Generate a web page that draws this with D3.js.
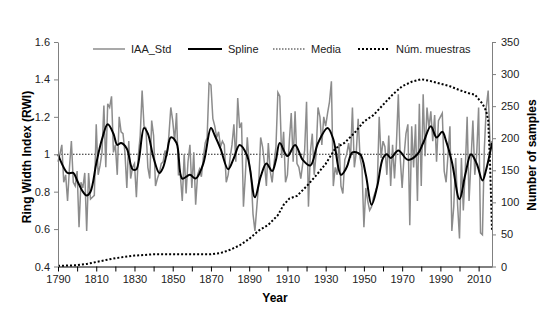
<!DOCTYPE html>
<html>
<head>
<meta charset="utf-8">
<script src="https://cdn.jsdelivr.net/npm/d3@7"></script>
<style>
  body { margin: 0; background: #fff; }
  svg text { font-family: "Liberation Sans", Arial, sans-serif; }
</style>
</head>
<body>
<svg id="chart" width="554" height="319"></svg>
<script>
// ring width index, one value per year from 1790 to 2017 (rows = decades)
const iaaStd = [
  0.96, 1.00, 1.05, 0.85, 0.89, 0.75, 0.93, 1.07, 0.85, 0.83,
  0.91, 0.61, 0.85, 0.82, 0.90, 0.59, 0.90, 0.76, 0.77, 0.78,
  1.16, 0.89, 0.94, 1.01, 1.26, 0.93, 1.27, 1.25, 1.31, 1.01,
  1.05, 0.89, 1.20, 1.12, 1.11, 1.01, 0.82, 1.07, 0.87, 0.93,
  0.95, 0.77, 0.99, 1.10, 1.34, 1.15, 1.14, 0.93, 0.87, 1.18,
  1.10, 0.83, 0.87, 0.90, 0.95, 0.96, 1.02, 0.99, 1.10, 1.25,
  1.18, 1.07, 1.22, 0.89, 0.89, 0.75, 1.00, 0.79, 0.96, 1.05,
  0.82, 1.01, 0.73, 0.89, 0.92, 0.88, 0.98, 1.06, 1.09, 1.38,
  1.37, 1.19, 1.15, 1.09, 1.12, 1.04, 1.07, 1.05, 0.85, 0.89,
  0.98, 1.05, 1.16, 0.96, 1.30, 1.14, 1.17, 0.72, 0.89, 1.09,
  0.95, 0.89, 0.68, 0.59, 0.72, 0.85, 1.09, 1.04, 0.95, 0.83,
  1.06, 0.91, 0.85, 0.95, 1.04, 1.33, 1.31, 0.98, 1.12, 0.85,
  0.89, 1.07, 1.22, 0.96, 1.23, 0.95, 0.93, 0.87, 0.95, 1.02,
  1.28, 0.72, 1.01, 1.11, 0.89, 1.00, 1.25, 1.20, 1.05, 1.20,
  1.15, 1.22, 1.28, 1.39, 0.83, 0.93, 0.89, 1.06, 0.83, 0.79,
  0.97, 1.00, 1.06, 0.98, 1.25, 0.93, 1.01, 1.19, 0.98, 0.93,
  0.61, 0.82, 0.75, 0.70, 0.72, 0.77, 0.80, 0.83, 1.20, 0.98,
  1.07, 1.04, 0.89, 1.10, 0.83, 1.05, 0.87, 1.05, 1.32, 0.98,
  0.82, 0.99, 1.11, 1.16, 0.62, 1.15, 0.93, 1.16, 0.75, 1.27,
  0.83, 1.32, 0.99, 1.25, 1.14, 1.23, 1.07, 1.21, 0.96, 1.18,
  1.20, 1.22, 0.91, 0.85, 1.00, 1.15, 0.59, 0.72, 0.98, 0.73,
  0.55, 0.98, 0.70, 0.91, 1.20, 0.75, 0.96, 1.18, 0.89, 1.00,
  1.25, 0.58, 0.57, 1.03, 1.25, 1.34, 1.05, 1.07
];
const firstYear = 1790;

// spline read at its turning points
const splineYears = [1790, 1792, 1795, 1798, 1800, 1803, 1805, 1807, 1810, 1813, 1816, 1819, 1821, 1823, 1826, 1829, 1831, 1835, 1837, 1840, 1843, 1845, 1847, 1849, 1852, 1855, 1859, 1862, 1866, 1870, 1872, 1875, 1879, 1882, 1885, 1889, 1893, 1896, 1899, 1902, 1904, 1906, 1910, 1914, 1918, 1922, 1926, 1931, 1934, 1938, 1941, 1944, 1948, 1951, 1954, 1957, 1960, 1962, 1964, 1968, 1973, 1978, 1981, 1985, 1988, 1991, 1993, 1996, 2000, 2003, 2006, 2009, 2012, 2014, 2017];
const splineVals = [1.0, 0.95, 0.9, 0.9, 0.86, 0.8, 0.78, 0.8, 0.95, 1.08, 1.16, 1.11, 1.05, 1.06, 1.03, 0.92, 0.92, 1.14, 1.11, 0.98, 0.9, 0.93, 1.01, 1.09, 1.06, 0.87, 0.89, 0.87, 0.95, 1.14, 1.1, 1.03, 0.92, 0.98, 1.05, 0.99, 0.77, 0.88, 0.95, 0.91, 0.97, 1.06, 0.99, 1.05, 0.97, 0.94, 1.06, 1.14, 1.08, 0.89, 0.93, 1.01, 1.0, 0.89, 0.73, 0.83, 0.98, 1.0, 0.98, 1.02, 0.97, 1.0, 1.06, 1.15, 1.09, 1.12, 1.07, 0.96, 0.76, 0.89, 1.0, 0.95, 0.86, 0.92, 1.06];

// number of samples
const sampleYears = [1790, 1800, 1805, 1810, 1815, 1820, 1825, 1830, 1835, 1840, 1870, 1875, 1880, 1885, 1890, 1895, 1900, 1905, 1908, 1911, 1915, 1920, 1925, 1930, 1935, 1940, 1945, 1950, 1955, 1960, 1965, 1970, 1975, 1980, 1985, 1990, 1995, 2000, 2005, 2008, 2010, 2012, 2014, 2015, 2016, 2017];
const sampleVals = [1, 2, 4, 7, 10, 13, 15, 17, 18, 19, 19, 21, 26, 33, 43, 56, 65, 80, 96, 106, 110, 125, 142, 160, 184, 193, 208, 226, 236, 252, 268, 281, 288, 292, 289, 285, 281, 275, 270, 268, 261, 254, 242, 228, 160, 55];

const mediaValue = 1;

const svg = d3.select("#chart");
const plotLeft = 58, plotRight = 492, plotTop = 42, plotBottom = 266.5;

const x = d3.scaleLinear().domain([1790, 2017]).range([plotLeft, plotRight]);
const y = d3.scaleLinear().domain([0.4, 1.6]).range([plotBottom, plotTop]);
const yR = d3.scaleLinear().domain([0, 350]).range([plotBottom, plotTop]);

const iaaData = iaaStd.map((v, i) => ({ year: firstYear + i, v }));
const splineData = splineYears.map((yr, i) => ({ year: yr, v: splineVals[i] }));
const sampleData = sampleYears.map((yr, i) => ({ year: yr, v: sampleVals[i] }));

// media line
svg.append("line")
  .attr("x1", x(1790)).attr("x2", x(2017))
  .attr("y1", y(mediaValue)).attr("y2", y(mediaValue))
  .attr("stroke", "#222").attr("stroke-width", 1)
  .attr("stroke-dasharray", "1.5,1.5");

// IAA_Std
svg.append("path")
  .datum(iaaData)
  .attr("fill", "none")
  .attr("stroke", "#8c8c8c")
  .attr("stroke-width", 1.5)
  .attr("d", d3.line().x(d => x(d.year)).y(d => y(d.v)));

// spline
svg.append("path")
  .datum(splineData)
  .attr("fill", "none")
  .attr("stroke", "#000")
  .attr("stroke-width", 2)
  .attr("d", d3.line().curve(d3.curveCatmullRom).x(d => x(d.year)).y(d => y(d.v)));

// number of samples
svg.append("path")
  .datum(sampleData)
  .attr("fill", "none")
  .attr("stroke", "#000")
  .attr("stroke-width", 2)
  .attr("stroke-dasharray", "2,2")
  .attr("d", d3.line().x(d => x(d.year)).y(d => yR(d.v)));

// axes
const xAxis = svg.append("g")
  .attr("transform", `translate(0,${plotBottom})`)
  .call(d3.axisBottom(x)
    .tickValues(d3.range(1790, 2018, 10))
    .tickFormat(d => (d - 1790) % 20 === 0 ? d : "")
    .tickSize(5).tickSizeOuter(0).tickPadding(4));
xAxis.select(".domain").attr("stroke", "#000");
xAxis.selectAll(".tick line").attr("stroke", "#000");

const yAxis = svg.append("g")
  .attr("transform", `translate(${plotLeft},0)`)
  .call(d3.axisLeft(y).ticks(6).tickFormat(d3.format(".1~f")).tickSize(4).tickSizeOuter(0).tickPadding(4));

const yAxisR = svg.append("g")
  .attr("transform", `translate(${plotRight},0)`)
  .call(d3.axisRight(yR).ticks(7).tickSize(4).tickSizeOuter(0).tickPadding(5));

[yAxis, yAxisR].forEach(g => {
  g.select(".domain").attr("stroke", "#808080");
  g.selectAll(".tick line").attr("stroke", "#808080");
});
[xAxis, yAxis, yAxisR].forEach(g => {
  g.selectAll("text").attr("font-size", 11).attr("fill", "#222")
    .attr("font-family", "'Liberation Sans', Arial, sans-serif");
});

// axis titles
svg.append("text")
  .attr("transform", `translate(31,157) rotate(-90)`)
  .attr("text-anchor", "middle")
  .attr("font-size", 12).attr("font-weight", "bold")
  .text("Ring Width Index (RWI)");

svg.append("text")
  .attr("transform", `translate(536,155) rotate(-90)`)
  .attr("text-anchor", "middle")
  .attr("font-size", 12).attr("font-weight", "bold")
  .text("Number of samples");

svg.append("text")
  .attr("x", 275).attr("y", 302)
  .attr("text-anchor", "middle")
  .attr("font-size", 12).attr("font-weight", "bold")
  .text("Year");

// legend
const legendItems = [
  { name: "IAA_Std", x1: 93, x2: 125, stroke: "#8c8c8c", width: 1.5, dash: null },
  { name: "Spline", x1: 188, x2: 222, stroke: "#000", width: 2, dash: null },
  { name: "Media", x1: 273, x2: 305, stroke: "#222", width: 1, dash: "1.5,1.5" },
  { name: "Núm. muestras", x1: 358, x2: 390, stroke: "#000", width: 2, dash: "2,2" }
];
const legend = svg.append("g");
legendItems.forEach(d => {
  legend.append("line")
    .attr("x1", d.x1).attr("x2", d.x2).attr("y1", 49).attr("y2", 49)
    .attr("stroke", d.stroke).attr("stroke-width", d.width)
    .attr("stroke-dasharray", d.dash);
  legend.append("text")
    .attr("x", d.x2 + 6).attr("y", 53)
    .attr("font-size", 11).attr("fill", "#222")
    .text(d.name);
});
</script>
</body>
</html>
